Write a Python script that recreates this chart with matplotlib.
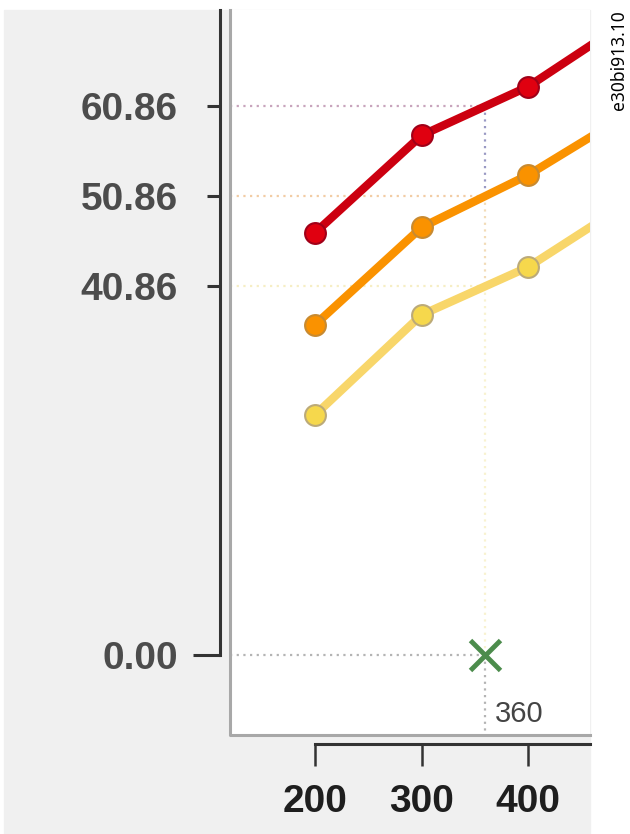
import matplotlib.pyplot as plt
from matplotlib.patches import Rectangle

# data
x_vals = [200, 300, 400, 500]
red_vals = [46.8, 57.6, 63.0, 70.8]
orange_vals = [36.6, 47.4, 53.2, 60.4]
yellow_vals = [26.6, 37.7, 43.0, 50.6]

x_ticks = [200, 300, 400]
guide_x = 360
guide_vals = [60.86, 50.86, 40.86]
zero_val = 0.00
drawing_id = 'e30bi913.10'

plt.rcParams['font.family'] = ['Liberation Sans', 'DejaVu Sans']

W, H = 630, 834
fig = plt.figure(figsize=(W / 100, H / 100), dpi=100)
fig.patch.set_facecolor('white')

# grey window background
fig.add_artist(Rectangle((4 / W, 0), (590 - 4) / W, (H - 10) / H,
                         transform=fig.transFigure, color='#f0f0f0', zorder=0))

ax = fig.add_axes([230 / W, (H - 735) / H, 360 / W, 725 / H])
ax.set_facecolor('white')
ax.set_xlim(120.2, 458.2)
ax.set_ylim(-8.87, 71.5)

# guide lines (dotted)
guide_cols = ['#c8a4bc', '#f2cca4', '#f6eec4']
vert_cols = ['#9a9ac4', '#f2dcb8', '#f8f2d0']
for v, c in zip(guide_vals, guide_cols):
    ax.plot([ax.get_xlim()[0], guide_x], [v, v], color=c, lw=1.6,
            ls=(0, (1, 2)), zorder=1)
ax.plot([ax.get_xlim()[0], guide_x], [zero_val, zero_val], color='#b4b4b4',
        lw=1.6, ls=(0, (1, 2)), zorder=1)
seg = guide_vals + [zero_val]
for i, c in enumerate(vert_cols):
    ax.plot([guide_x, guide_x], [seg[i], seg[i + 1]], color=c, lw=1.6,
            ls=(0, (1, 2)), zorder=1)
ax.plot([guide_x, guide_x], [zero_val, ax.get_ylim()[0]], color='#b4b4b4',
        lw=1.6, ls=(0, (1, 2)), zorder=1)

# series
ax.plot(x_vals, yellow_vals, color='#f8d66a', lw=6, marker='o', ms=15,
        mfc='#f6d84c', mec='#bcaa78', mew=1.5, zorder=3)
ax.plot(x_vals, orange_vals, color='#fa9200', lw=6, marker='o', ms=15,
        mfc='#fa9200', mec='#c88a30', mew=1.5, zorder=3)
ax.plot(x_vals, red_vals, color='#cc0010', lw=6, marker='o', ms=15,
        mfc='#e00010', mec='#a00018', mew=1.5, zorder=3)

# cursor marker
ax.plot([guide_x], [zero_val], marker='x', ms=21, mew=3.5, color='#4c8c4c',
        zorder=4)
ax.annotate(str(guide_x), xy=(guide_x, ax.get_ylim()[0]), xytext=(7, 5),
            textcoords='offset points', ha='left', va='bottom',
            fontsize=21, color='#444444')

# plot area grey border
ax.plot([0, 0, 1], [1, 0, 0], transform=ax.transAxes, color='#a8a8a8',
        lw=2.2, clip_on=False, zorder=5)

# dark axes lines, offset outward
for s in ['top', 'right']:
    ax.spines[s].set_visible(False)
ax.spines['left'].set_position(('outward', 7.2))
ax.spines['left'].set_bounds(zero_val, ax.get_ylim()[1])
ax.spines['bottom'].set_position(('outward', 6.5))
ax.spines['bottom'].set_bounds(x_ticks[0], ax.get_xlim()[1])
for s in ['left', 'bottom']:
    ax.spines[s].set_color('#333333')
    ax.spines[s].set_linewidth(2.2)

ax.set_yticks(guide_vals)
ax.set_yticklabels(['%.2f' % v for v in guide_vals])
ax.set_yticks([zero_val], minor=True)
ax.set_yticklabels(['%.2f' % zero_val], minor=True)
ax.tick_params(axis='y', which='major', length=9.5, width=2.2, pad=21,
               labelsize=28, labelcolor='#4c4c4c', color='#333333')
ax.tick_params(axis='y', which='minor', length=19.5, width=2.2, pad=11,
               labelsize=28, labelcolor='#4c4c4c', color='#333333')

ax.set_xticks(x_ticks)
ax.tick_params(axis='x', length=16, width=1.8, pad=13, labelsize=28,
               labelcolor='#1e1e1e', color='#333333')

for lab in ax.get_yticklabels(which='both') + ax.get_xticklabels():
    lab.set_fontweight('bold')

fig.text(619 / W, 1 - 10 / H, drawing_id, rotation=90, ha='center', va='top',
         fontsize=12.5, family=['Noto Sans', 'DejaVu Sans'], color='black')

fig.savefig('out.png', dpi=100)
